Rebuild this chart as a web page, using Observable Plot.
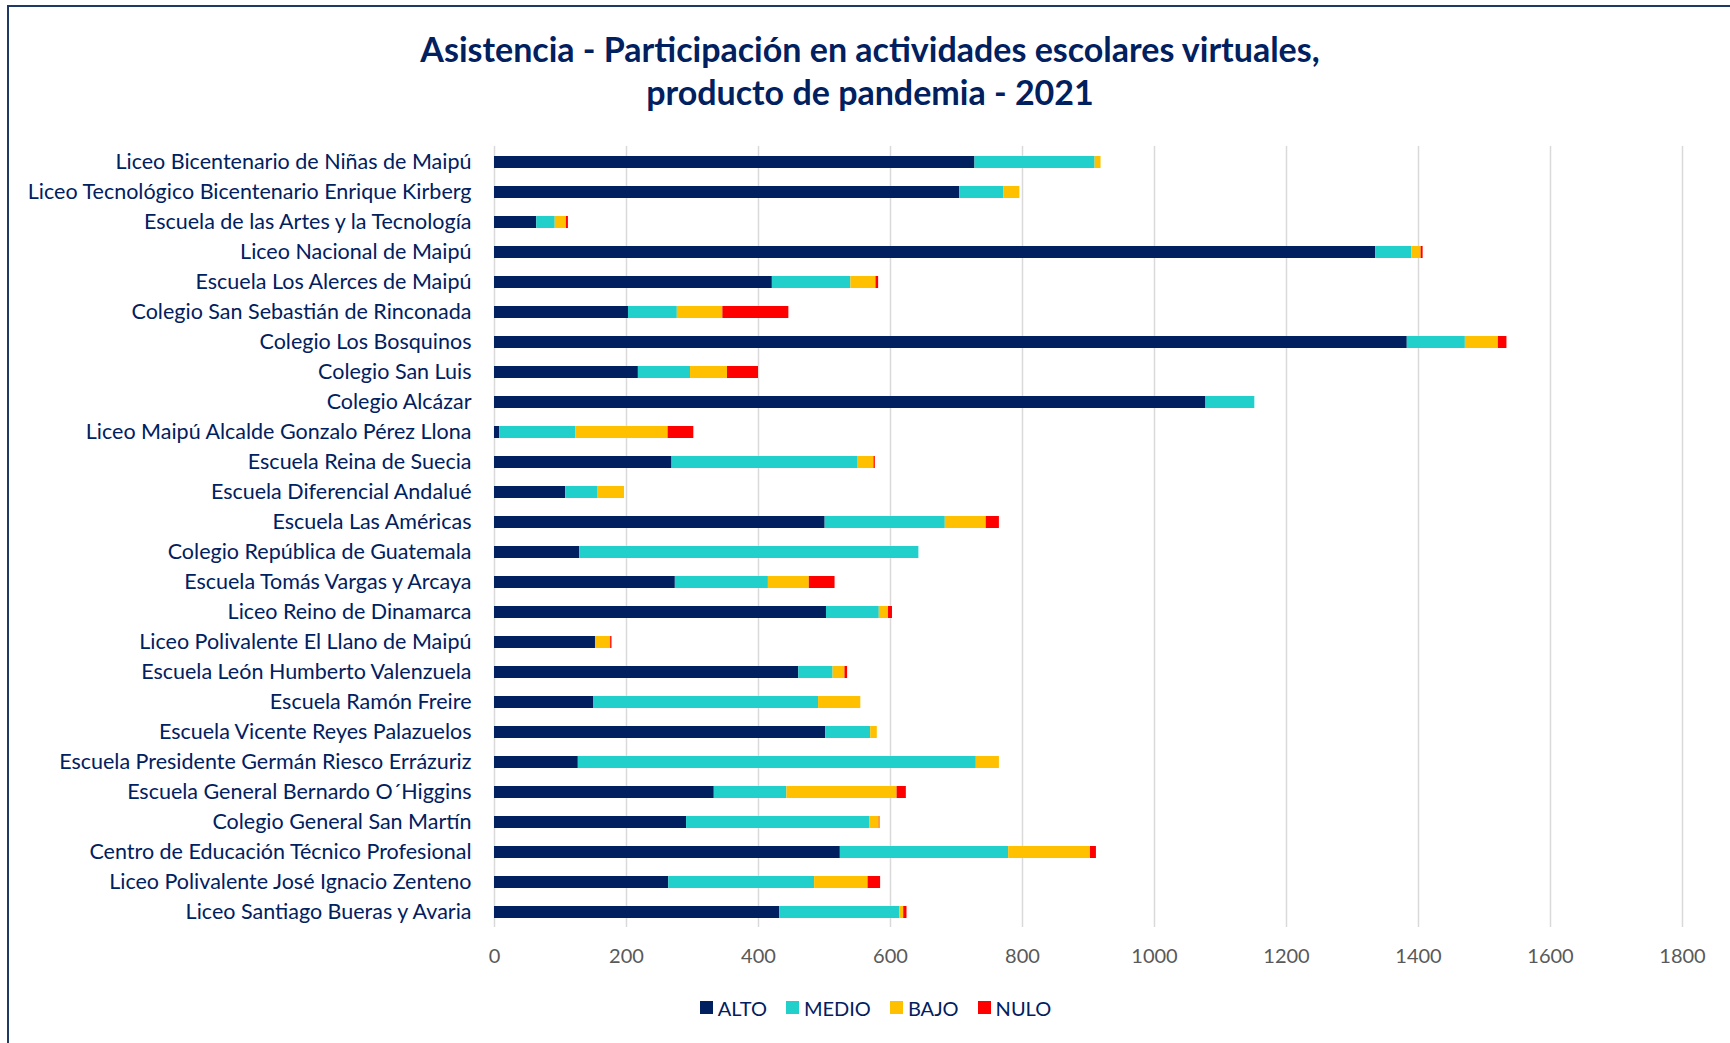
<!DOCTYPE html>
<html>
<head>
<meta charset="utf-8">
<script src="https://cdn.jsdelivr.net/npm/d3@7"></script>
<script src="https://cdn.jsdelivr.net/npm/@observablehq/plot@0.6"></script>
<style>
  html, body { margin: 0; padding: 0; background: #fff; }
  #wrap { position: relative; width: 1730px; height: 1043px; overflow: hidden; font-family: Lato, "Open Sans", sans-serif; }
  #frame { position: absolute; left: 7px; top: 5px; width: 1740px; height: 1060px; border-left: 2px solid #203864; border-top: 2px solid #203864; box-sizing: border-box; pointer-events: none; }
  #title { height: 126px; box-sizing: border-box; padding-top: 27px; text-align: center; font-weight: bold; font-size: 34px; line-height: 43px; color: #002060; padding-left: 10px; }
  #chart svg { display: block; }
  #legend { margin-top: 16px; display: flex; justify-content: center; padding-left: 40px; }
  .lg-swatch > svg { margin-right: 5px !important; }
  .lg-swatch { margin-right: 19px !important; }
</style>
</head>
<body>
<div id="wrap">
  <div id="frame"></div>
  <div id="title">Asistencia - Participación en actividades escolares virtuales,<br>producto de pandemia - 2021</div>
  <div id="chart"></div>
  <div id="legend"></div>
</div>
<script>
const schools = [
  "Liceo Bicentenario de Niñas de Maipú",
  "Liceo Tecnológico Bicentenario Enrique Kirberg",
  "Escuela de las Artes y la Tecnología",
  "Liceo Nacional de Maipú",
  "Escuela Los Alerces de Maipú",
  "Colegio San Sebastián de Rinconada",
  "Colegio Los Bosquinos",
  "Colegio San Luis",
  "Colegio Alcázar",
  "Liceo Maipú Alcalde Gonzalo Pérez Llona",
  "Escuela Reina de Suecia",
  "Escuela Diferencial Andalué",
  "Escuela Las Américas",
  "Colegio República de Guatemala",
  "Escuela Tomás Vargas y Arcaya",
  "Liceo Reino de Dinamarca",
  "Liceo Polivalente El Llano de Maipú",
  "Escuela León Humberto Valenzuela",
  "Escuela Ramón Freire",
  "Escuela Vicente Reyes Palazuelos",
  "Escuela Presidente Germán Riesco Errázuriz",
  "Escuela General Bernardo O´Higgins",
  "Colegio General San Martín",
  "Centro de Educación Técnico Profesional",
  "Liceo Polivalente José Ignacio Zenteno",
  "Liceo Santiago Bueras y Avaria"
];
const alto  = [728, 705, 64, 1335, 421, 203, 1383, 218, 1078, 8, 269, 108, 501, 129, 274, 503, 153, 461, 150, 502, 127, 333, 291, 524, 264, 432];
const medio = [182, 67, 28, 55, 119, 74, 88, 79, 74, 115, 281, 49, 182, 514, 141, 80, 0, 52, 341, 68, 603, 110, 278, 255, 221, 182];
const bajo  = [9, 24, 17, 14, 38, 69, 50, 56, 0, 140, 25, 40, 62, 0, 62, 14, 23, 18, 64, 10, 35, 167, 14, 124, 81, 6];
const nulo  = [0, 0, 3, 3, 4, 100, 13, 47, 0, 39, 2, 0, 20, 0, 39, 6, 2, 4, 0, 0, 0, 14, 1, 9, 19, 5];
const levels = ["ALTO", "MEDIO", "BAJO", "NULO"];
const levelColors = ["#002060", "#21CFCB", "#FFC000", "#FF0000"];
const xTicks = [0, 200, 400, 600, 800, 1000, 1200, 1400, 1600, 1800];

const series = [alto, medio, bajo, nulo];
const data = schools.flatMap((s, i) => levels.map((l, j) => ({school: s, level: l, value: series[j][i]})));

const chart = Plot.plot({
  width: 1730,
  height: 849,
  marginLeft: 494,
  marginRight: 48,
  marginTop: 20,
  marginBottom: 48,
  style: {fontFamily: "Lato, sans-serif", fontSize: "20px", background: "transparent"},
  x: {domain: [0, 1800], label: null},
  y: {domain: schools, label: null, paddingInner: 0.6, paddingOuter: 0.3},
  color: {domain: levels, range: levelColors},
  marks: [
    Plot.gridX(xTicks, {stroke: "#d9d9d9", strokeOpacity: 1, strokeWidth: 1.5}),
    Plot.barX(data, {x: "value", y: "school", fill: "level"}),
    Plot.axisX(xTicks, {tickSize: 0, tickPadding: 21, fill: "#595959", fontSize: 20, label: null, tickFormat: d => String(d)}),
    Plot.axisY({tickSize: 0, tickPadding: 23, fill: "#002060", fontSize: 21.5, label: null})
  ]
});
document.getElementById("chart").appendChild(chart);

const legend = Plot.legend({
  color: {domain: levels, range: levelColors},
  legend: "swatches",
  swatchSize: 13,
  className: "lg",
  style: {fontSize: "20px", color: "#002060", fontFamily: "Lato, sans-serif"}
});
document.getElementById("legend").appendChild(legend);
</script>
</body>
</html>
